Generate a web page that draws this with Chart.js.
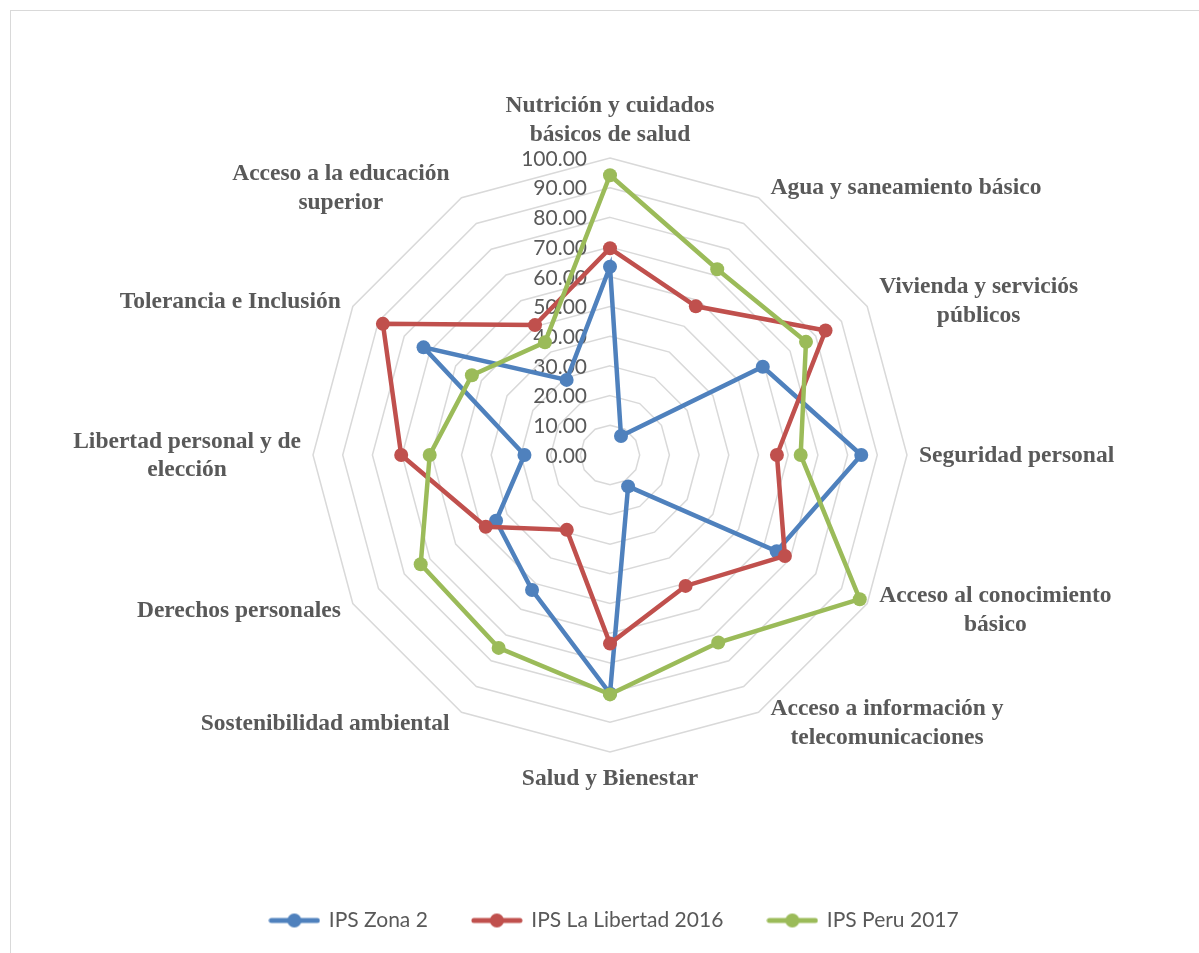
<!DOCTYPE html>
<html>
<head>
<meta charset="utf-8">
<script src="https://cdn.jsdelivr.net/npm/chart.js@4"></script>
<style>
  html, body { margin: 0; padding: 0; background: #fff; overflow: hidden; }
  #frame { position: absolute; left: 10px; top: 10px; width: 1200px; height: 960px; border: 1px solid #d9d9d9; box-sizing: border-box; }
  #c { position: absolute; left: 0; top: 0; }
</style>
</head>
<body>
<div id="frame"></div>
<canvas id="c" width="1199" height="953"></canvas>
<script>
// categories (each entry = the lines of the label)
const categories = [
    ['Nutrición y cuidados', 'básicos de salud'],
    ['Agua y saneamiento básico'],
    ['Vivienda y serviciós', 'públicos'],
    ['Seguridad personal'],
    ['Acceso al conocimiento', 'básico'],
    ['Acceso a información y', 'telecomunicaciones'],
    ['Salud y Bienestar'],
    ['Sostenibilidad ambiental'],
    ['Derechos personales'],
    ['Libertad personal y de', 'elección'],
    ['Tolerancia e Inclusión'],
    ['Acceso a la educación', 'superior']
];

const seriesNames = ['IPS Zona 2', 'IPS La Libertad 2016', 'IPS Peru 2017'];
const zona2 = [63.4, 7.4, 59.4, 84.6, 64.8, 12.2, 80.3, 52.5, 44.3, 28.8, 72.5, 29.2];
const libertad2016 = [69.6, 57.8, 83.8, 56.2, 68.0, 50.9, 63.5, 29.1, 48.3, 70.3, 88.3, 50.5];
const peru2017 = [94.2, 72.2, 76.2, 64.2, 97.1, 72.9, 80.6, 75.0, 73.6, 60.7, 53.7, 43.8];

const tickValues = [0, 10, 20, 30, 40, 50, 60, 70, 80, 90, 100];

const colors = ['#4f81bd', '#c0504d', '#9bbb59'];

// legend marker: line with a dot, like the office chart
function marker(color) {
    const cv = document.createElement('canvas');
    cv.width = 52; cv.height = 16;
    const g = cv.getContext('2d');
    g.strokeStyle = color;
    g.lineWidth = 5;
    g.lineCap = 'round';
    g.beginPath(); g.moveTo(3, 8); g.lineTo(49, 8); g.stroke();
    g.fillStyle = color;
    g.beginPath(); g.arc(26, 8, 7, 0, Math.PI * 2); g.fill();
    return cv;
}

// tick labels and category labels, drawn from the radial scale
const radarText = {
    id: 'radarText',
    beforeDatasetsDraw(chart) {
        const s = chart.scales.r;
        const ctx = chart.ctx;
        ctx.save();
        ctx.fillStyle = '#595959';
        ctx.font = '21px Lato';
        ctx.textAlign = 'right';
        ctx.textBaseline = 'middle';
        tickValues.forEach(v => {
            const y = s.yCenter - s.getDistanceFromCenterForValue(v);
            ctx.fillText(v.toFixed(2), s.xCenter - 23, y + 1);
        });

        ctx.font = 'bold 23.5px "Liberation Serif"';
        ctx.textAlign = 'center';
        const R = s.drawingArea;
        const lineH = 28.5;
        categories.forEach((lines, i) => {
            const a = i * 2 * Math.PI / categories.length;
            const sin = Math.sin(a), cos = Math.cos(a);
            const p = s.getPointPosition(i, R);
            const h = lines.length * lineH;
            const w = Math.max(...lines.map(t => ctx.measureText(t).width));
            let cx, cy;
            if (Math.abs(sin) < 0.01) {
                cx = p.x;
                cy = cos > 0 ? p.y - 10 - h / 2 : p.y + 12 + h / 2;
            } else {
                cx = p.x + Math.sign(sin) * (12 + w / 2);
                cy = p.y - cos * 12;
            }
            lines.forEach((t, k) => ctx.fillText(t, cx, cy - h / 2 + lineH * (k + 0.5) + 1));
        });
        ctx.restore();
    }
};

const seriesData = [zona2, libertad2016, peru2017];

new Chart(document.getElementById('c'), {
    type: 'radar',
    data: {
        labels: categories,
        datasets: seriesData.map((d, i) => ({
            label: seriesNames[i],
            data: d,
            borderColor: colors[i],
            backgroundColor: colors[i],
            pointBackgroundColor: colors[i],
            pointBorderColor: colors[i],
            borderWidth: 4.5,
            pointRadius: 7,
            pointBorderWidth: 0,
            fill: false,
            order: 3 - i
        }))
    },
    options: {
        responsive: false,
        animation: false,
        layout: { padding: { bottom: 12, left: 30 } },
        elements: { line: { tension: 0 } },
        plugins: {
            tooltip: { enabled: false },
            legend: {
                position: 'bottom',
                labels: {
                    usePointStyle: true,
                    pointStyleWidth: 48,
                    padding: 45,
                    color: '#595959',
                    font: { family: 'Lato', size: 21 },
                    sort: (a, b) => a.datasetIndex - b.datasetIndex,
                    generateLabels(chart) {
                        const items = Chart.defaults.plugins.legend.labels.generateLabels(chart);
                        items.forEach(it => { it.pointStyle = marker(colors[it.datasetIndex]); });
                        return items;
                    }
                }
            }
        },
        scales: {
            r: {
                min: 0,
                max: 100,
                ticks: { display: false, stepSize: 10 },
                grid: { color: '#d9d9d9', lineWidth: 1.5 },
                angleLines: { display: false },
                pointLabels: { display: false },
                afterFit(s) {
                    s.xCenter = 610;
                    s.yCenter = 455;
                    s.drawingArea = 297;
                }
            }
        }
    },
    plugins: [radarText]
});
</script>
</body>
</html>
